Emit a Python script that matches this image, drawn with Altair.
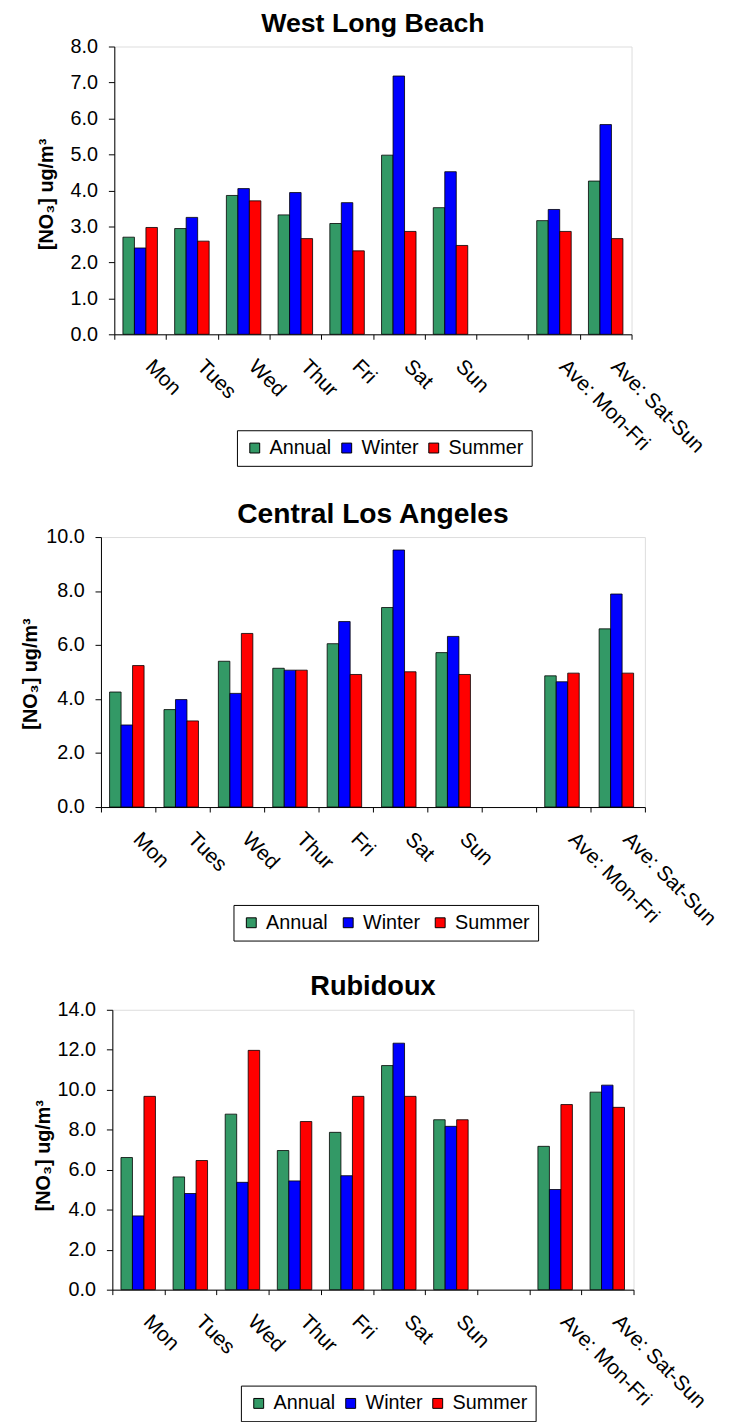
import altair as alt
import pandas as pd

categories = ["Mon", "Tues", "Wed", "Thur", "Fri", "Sat", "Sun", " ", "Ave: Mon-Fri", "Ave: Sat-Sun"]
data_cats = ["Mon", "Tues", "Wed", "Thur", "Fri", "Sat", "Sun", "Ave: Mon-Fri", "Ave: Sat-Sun"]
seasons = ["Annual", "Winter", "Summer"]
colors = ["#339966", "#0000FF", "#FF0000"]

wlb_annual = [2.70, 2.94, 3.86, 3.32, 3.08, 4.98, 3.52, 3.16, 4.26]
wlb_winter = [2.40, 3.25, 4.05, 3.94, 3.66, 7.18, 4.52, 3.47, 5.83]
wlb_summer = [2.97, 2.59, 3.71, 2.66, 2.32, 2.86, 2.47, 2.86, 2.66]

cla_annual = [4.26, 3.61, 5.40, 5.14, 6.05, 7.39, 5.72, 4.86, 6.60]
cla_winter = [3.04, 3.98, 4.21, 5.07, 6.87, 9.52, 6.32, 4.64, 7.89]
cla_summer = [5.24, 3.19, 6.43, 5.07, 4.91, 5.01, 4.91, 4.96, 4.96]

rub_annual = [6.61, 5.64, 8.78, 6.96, 7.87, 11.21, 8.50, 7.17, 9.88]
rub_winter = [3.69, 4.81, 5.37, 5.44, 5.70, 12.33, 8.17, 5.01, 10.23]
rub_summer = [9.67, 6.46, 11.97, 8.41, 9.67, 9.67, 8.50, 9.26, 9.12]

FONT = "Liberation Sans"
YTITLE = "[NO\u2083] ug/m\u00b3"


def make_chart(title, title_size, annual, winter, summer, ymax, ystep, width, height,
               title_x, title_y, leg_x, leg_y, leg_pad):
    rows = []
    for i, d in enumerate(data_cats):
        for s, vals in zip(seasons, [annual, winter, summer]):
            rows.append({"Day": d, "Season": s, "Value": vals[i]})
    df = pd.DataFrame(rows)
    yvals = [round(ystep * k, 1) for k in range(int(round(ymax / ystep)) + 1)]
    return alt.Chart(
        df,
        title=alt.Title(title, fontSize=title_size, fontWeight="bold", font=FONT,
                        color="black", offset=-1),
    ).mark_bar(stroke="black", strokeWidth=0.8).encode(
        x=alt.X(
            "Day:N",
            scale=alt.Scale(domain=categories, paddingInner=0, paddingOuter=0),
            axis=alt.Axis(
                title=None, labelAngle=45, labelAlign="left", labelBaseline="middle",
                labelFontSize=21, labelPadding=24, labelOffset=8, tickBand="extent",
                tickSize=5, labelOverlap=False, labelBound=False,
                domainColor="black", tickColor="black", labelColor="black",
                labelFont=FONT,
            ),
        ),
        xOffset=alt.XOffset(
            "Season:N",
            scale=alt.Scale(domain=seasons, paddingOuter=0.75, paddingInner=0),
        ),
        y=alt.Y(
            "Value:Q",
            scale=alt.Scale(domain=[0, ymax], nice=False),
            axis=alt.Axis(
                values=yvals, format=".1f", title=YTITLE, titleFontSize=20,
                titleFontWeight="bold", titleFont=FONT, titleColor="black",
                titleX=title_x, titleY=title_y, titleBaseline="middle",
                titleAlign="center", titleAngle=270,
                labelFontSize=20, labelFont=FONT, labelColor="black",
                tickSize=6, labelPadding=11, domainColor="black", tickColor="black",
                grid=False,
            ),
        ),
        color=alt.Color(
            "Season:N",
            scale=alt.Scale(domain=seasons, range=colors),
            legend=alt.Legend(
                title=None, orient="none", legendX=leg_x, legendY=leg_y,
                direction="horizontal", symbolType="square", symbolSize=100,
                symbolStrokeColor="black", symbolStrokeWidth=1, symbolOpacity=1,
                labelFontSize=20, labelFont=FONT, labelColor="black",
                labelOffset=5, columnPadding=leg_pad, strokeColor="black",
                padding=8, fillColor="white",
            ),
        ),
    ).properties(width=width, height=height)


c1 = make_chart("West Long Beach", 27, wlb_annual, wlb_winter, wlb_summer, 8, 1,
                523, 291, -69, 149, 124, 388, 5)
c2 = make_chart("Central Los Angeles", 28.5, cla_annual, cla_winter, cla_summer, 10, 2,
                550, 273, -71, 138, 134, 372, 10)
c3 = make_chart("Rubidoux", 27.5, rub_annual, rub_winter, rub_summer, 14, 2,
                527, 283, -70, 147, 130, 380, 5)

chart = alt.vconcat(c1, c2, c3, spacing=205, bounds="flush", center=True).resolve_scale(
    color="independent"
).resolve_legend(color="independent").properties(
    padding={"left": 12, "top": -7, "right": 5, "bottom": 5}
).configure_view(stroke="#808080", strokeWidth=1.2).configure(font=FONT)

chart.save("out.html", embed_options={"renderer": "svg", "actions": False})
